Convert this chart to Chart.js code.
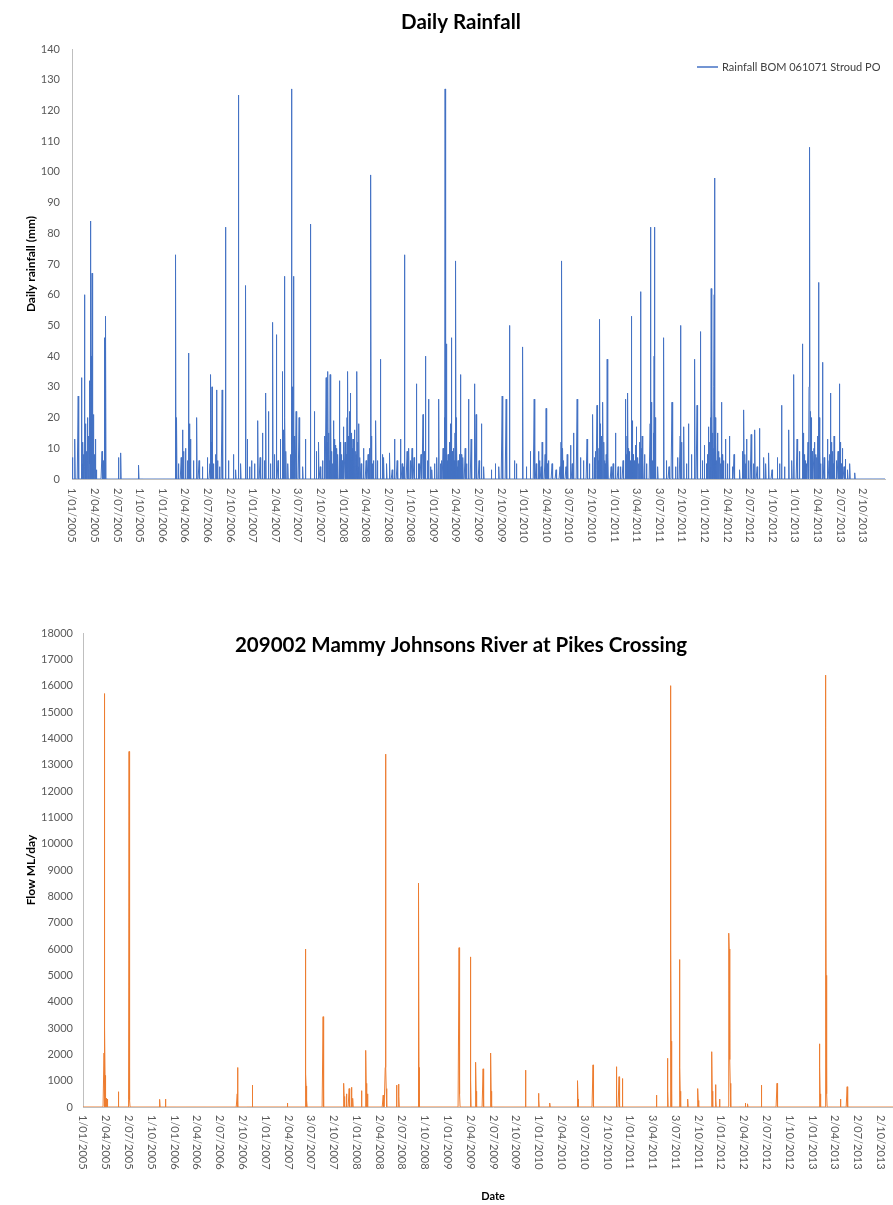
<!DOCTYPE html>
<html>
<head>
<meta charset="utf-8">
<title>Daily Rainfall and Flow</title>
<script src="https://cdn.jsdelivr.net/npm/chart.js@4.4.1/dist/chart.umd.min.js"></script>
<style>
  html, body { margin: 0; padding: 0; background: #ffffff; overflow: hidden; width: 893px; height: 1205px; }
  .panel { position: absolute; left: 0; }
  #rainPanel { top: 0; width: 893px; height: 560px; }
  #flowPanel { top: 600px; width: 912px; height: 605px; }
</style>
</head>
<body>
<div id="rainPanel" class="panel"><canvas id="rainChart" width="893" height="560"></canvas></div>
<div id="flowPanel" class="panel"><canvas id="flowChart" width="912" height="605"></canvas></div>
<script>
// Daily records, one category per day counted from 1/01/2005.
const DAY_COUNT = 3276;
const TICK_STEP = 91;

// Date labels shown along both x axes, one every TICK_STEP days.
const dateTicks = [
  "1/01/2005","2/04/2005","2/07/2005","1/10/2005","1/01/2006","2/04/2006","2/07/2006","2/10/2006",
  "1/01/2007","2/04/2007","3/07/2007","2/10/2007","1/01/2008","2/04/2008","2/07/2008","1/10/2008",
  "1/01/2009","2/04/2009","2/07/2009","2/10/2009","1/01/2010","2/04/2010","3/07/2010","2/10/2010",
  "1/01/2011","3/04/2011","3/07/2011","2/10/2011","1/01/2012","2/04/2012","2/07/2012","1/10/2012",
  "1/01/2013","2/04/2013","2/07/2013","2/10/2013"
];

// Rainfall BOM 061071 Stroud PO: [day, mm] for wet days (all other days 0 mm).
const rain2005 = [[1,7],[12,13],[25,27],[39,33],[41,5],[44,12],[47,8],[50,60],[52,4],[55,18],[58,9],[62,20],[64,6],[66,10],[68,14],[70,32],[72,5],[73,20],[75,84],[77,40],[78,25],[80,10],[81,67],[83,30],[86,21],[90,8],[92,4],[95,13],[98,3],[121,9],[127,6],[130,46],[133,15],[136,53],[187,7],[197,8.5],[269,4.5]];
const rain2006 = [[418,73],[422,20],[430,5],[440,7],[443,3],[446,16],[450,9],[457,10],[466,6],[470,41],[473,18],[476,7],[478,13],[490,6],[503,20],[512,6],[525,4],[546,7],[556,5],[559,34],[561,12],[564,30],[570,5],[580,8],[583,29],[586,6],[595,4],[605,29],[618,82],[630,6],[651,8],[660,3],[671,125],[680,5],[700,63],[707,13],[715,4],[723,6]];
const rain2007 = [[735,5],[749,19],[758,7],[767,15],[775,6],[781,28],[792,22],[800,5],[809,51],[815,8],[823,47],[830,6],[839,13],[848,35],[851,9],[853,16],[855,66],[858,20],[862,9],[870,5],[880,8],[884,127],[887,30],[889,12],[892,66],[895,14],[898,10],[903,22],[915,20],[930,4],[940,13],[961,83],[976,22],[985,9],[994,12],[1000,4],[1010,6],[1018,14],[1024,33],[1028,12],[1031,35],[1033,15],[1035,8],[1038,6],[1040,34],[1043,18],[1046,9],[1049,5],[1053,19],[1057,13],[1060,11],[1064,6],[1067,10],[1071,8],[1077,32],[1080,12],[1085,8],[1088,6],[1094,17]];
const rain2008 = [[1100,12],[1104,8],[1108,20],[1111,35],[1113,9],[1115,14],[1118,22],[1121,28],[1124,6],[1127,15],[1129,10],[1132,13],[1135,5],[1138,16],[1142,9],[1145,8],[1148,35],[1151,12],[1153,4],[1156,18],[1160,7],[1165,5],[1175,10],[1185,6],[1193,8],[1198,10],[1202,20],[1204,99],[1207,14],[1210,5],[1215,6],[1224,19],[1230,6],[1242,39],[1250,8],[1256,7],[1268,5],[1280,8.5],[1290,3],[1300,13],[1310,6],[1323,13],[1330,5],[1335,4],[1340,73],[1350,9],[1357,10],[1364,6],[1370,10],[1378,7],[1387,31],[1395,5],[1400,5],[1406,8],[1414,21],[1420,9],[1425,40],[1432,6],[1437,26],[1445,4],[1450,3],[1460,5]];
const rain2009 = [[1470,7],[1478,26],[1485,5],[1490,6],[1495,10],[1500,20],[1503,127],[1505,15],[1509,44],[1512,6],[1515,8],[1520,12],[1525,18],[1528,46],[1531,9],[1536,10],[1540,6],[1543,15],[1546,71],[1548,20],[1550,12],[1552,4],[1555,6],[1560,8],[1565,34],[1568,8],[1572,5],[1575,7],[1584,10],[1590,5],[1598,26],[1608,13],[1621,31],[1628,21],[1640,6],[1649,18],[1659,4],[1690,3],[1706,5],[1720,4],[1733,27],[1749,26],[1763,50],[1782,6],[1790,5],[1816,43]];
const rain2010 = [[1830,4],[1846,9],[1862,26],[1870,5],[1880,9],[1884,6],[1890,4],[1894,12],[1906,8],[1910,23],[1914,5],[1920,6],[1934,5],[1950,3],[1966,4],[1970,12],[1973,71],[1977,10],[1980,6],[1990,4],[1995,8],[2008,11],[2015,5],[2021,15],[2035,26],[2048,7],[2060,6],[2075,13],[2085,5],[2098,21],[2105,7],[2110,9],[2115,24],[2118,12],[2120,6],[2123,10],[2126,52],[2128,18],[2131,14],[2134,9],[2139,25],[2143,12],[2145,6],[2148,5],[2152,8],[2156,39],[2159,7],[2172,4],[2180,5],[2190,15]];
const rain2011 = [[2200,4],[2210,4],[2220,6],[2230,26],[2233,8],[2236,14],[2239,28],[2242,10],[2245,9],[2249,6],[2254,53],[2257,19],[2260,8],[2265,6],[2270,11],[2274,17],[2280,7],[2284,5],[2287,12],[2290,61],[2294,10],[2297,14],[2300,6],[2306,8],[2315,5],[2329,18],[2331,82],[2333,25],[2335,10],[2339,6],[2343,15],[2345,40],[2347,82],[2349,20],[2351,8],[2360,4],[2384,46],[2395,6],[2405,4],[2417,25],[2431,4],[2440,7],[2450,14],[2452,50],[2455,12],[2465,17],[2475,5],[2483,18],[2495,8],[2509,39],[2518,24],[2531,48],[2540,6],[2548,11],[2555,5]];
const rain2012 = [[2560,8],[2563,17],[2566,6],[2569,12],[2573,20],[2575,62],[2578,26],[2580,15],[2583,10],[2586,30],[2587,60],[2589,98],[2591,20],[2594,12],[2597,6],[2600,15],[2604,9],[2610,7],[2613,5],[2616,25],[2619,8],[2625,6],[2633,13],[2640,5],[2648,14],[2660,4],[2667,8],[2690,3],[2700,9],[2703,6],[2707,22.5],[2711,8],[2714,5],[2717,13],[2725,6],[2736,14.5],[2745,5],[2751,16],[2760,4],[2770,16.5],[2787,7],[2795,5],[2807,8.5],[2820,3],[2841,7],[2850,5],[2858,24],[2870,4],[2888,16],[2900,6],[2908,34],[2921,13]];
const rain2013 = [[2930,9],[2942,44],[2946,15],[2950,8],[2955,6],[2960,5],[2965,12],[2969,30],[2970,75],[2971,55],[2972,108],[2974,22],[2976,12],[2978,20],[2981,9],[2984,6],[2989,10],[2992,12],[2995,8],[3000,7],[3004,14],[3007,64],[3010,20],[3013,9],[3016,5],[3023,38],[3030,7],[3043,13],[3050,6],[3053,8],[3056,28],[3059,12],[3063,9],[3066,5],[3070,14],[3080,6],[3086,9],[3091,31],[3094,12],[3098,5],[3103,10],[3110,4],[3116,6.5],[3125,3],[3134,5],[3154,2]];

// 209002 Mammy Johnsons River at Pikes Crossing: [day, ML/day] for flow events.
const flow2005 = [[84,2050],[86,15700],[87,3000],[88,1200],[89,600],[92,330],[96,300],[141,580],[183,300],[184,13500],[185,1500],[186,500],[187,250],[307,290],[329,300]];
const flow2006 = [[616,500],[617,1500],[618,700],[676,830]];
const flow2007 = [[816,150],[888,1000],[889,6000],[890,1250],[891,800],[892,400],[894,250],[959,3430],[960,600],[961,250],[1042,900],[1043,400],[1052,500],[1063,700],[1072,750],[1078,330]];
const flow2008 = [[1112,620],[1130,2150],[1131,900],[1136,500],[1199,450],[1207,1500],[1208,13400],[1209,4000],[1210,1500],[1211,700],[1252,830],[1261,870],[1262,400],[1341,8500],[1342,1500],[1343,500]];
const flow2009 = [[1502,6050],[1503,5800],[1504,1200],[1505,500],[1548,5700],[1549,1000],[1569,1700],[1570,600],[1598,1450],[1599,500],[1629,2050],[1630,600],[1767,1400],[1768,400],[1820,520],[1821,300]];
const flow2010 = [[1865,150],[1976,1000],[1977,300],[2037,1600],[2038,500],[2130,1530],[2131,600],[2141,1150],[2154,1080],[2155,400]];
const flow2011 = [[2290,450],[2335,1850],[2336,600],[2346,3000],[2347,16000],[2348,6000],[2349,2500],[2350,1200],[2351,600],[2383,5600],[2384,1500],[2385,600],[2416,300],[2456,700],[2457,250],[2512,2100],[2513,600],[2527,850],[2528,300],[2543,300]];
const flow2012 = [[2579,2000],[2580,6600],[2581,6000],[2582,4500],[2583,3500],[2584,1800],[2585,900],[2586,500],[2645,150],[2655,120],[2709,830],[2710,250],[2772,900],[2773,250]];
const flow2013 = [[2942,2400],[2943,1500],[2944,500],[2965,2000],[2966,16400],[2967,14400],[2968,5000],[2969,2000],[2970,1000],[2971,500],[3025,300],[3052,770],[3053,300]];

// Expand the listed days into a full daily series.
function dailySeries(groups) {
  const out = new Array(DAY_COUNT).fill(0);
  groups.forEach(g => g.forEach(([day, value]) => { out[day] = value; }));
  return out;
}

const dayLabels = Array.from({ length: DAY_COUNT }, (_, i) => i);
const rainSeries = dailySeries([rain2005, rain2006, rain2007, rain2008, rain2009, rain2010, rain2011, rain2012, rain2013]);
const flowSeries = dailySeries([flow2005, flow2006, flow2007, flow2008, flow2009, flow2010, flow2011, flow2012, flow2013]);

const FONT = 'Lato, "Open Sans", sans-serif';
const AXIS_GREY = '#bfbfbf';
const TICK_GREY = '#595959';

// Chart heading drawn at a fixed spot over the plot.
const headline = {
  id: 'headline',
  afterDraw(chart, args, opts) {
    const ctx = chart.ctx;
    ctx.save();
    ctx.font = opts.font;
    ctx.fillStyle = opts.color;
    ctx.textAlign = 'center';
    ctx.textBaseline = 'middle';
    ctx.fillText(opts.text, opts.x, opts.y);
    ctx.restore();
  }
};

// Series key inside the plot: a short line sample followed by the series name.
const seriesKey = {
  id: 'seriesKey',
  afterDraw(chart, args, opts) {
    if (!opts || !opts.display) return;
    const ds = chart.data.datasets[0];
    const ctx = chart.ctx;
    ctx.save();
    ctx.strokeStyle = ds.borderColor;
    ctx.lineWidth = 1.5;
    ctx.beginPath();
    ctx.moveTo(opts.x, opts.y);
    ctx.lineTo(opts.x + opts.sampleWidth, opts.y);
    ctx.stroke();
    ctx.font = opts.font;
    ctx.fillStyle = opts.color;
    ctx.textAlign = 'left';
    ctx.textBaseline = 'middle';
    ctx.fillText(ds.label, opts.x + opts.sampleWidth + opts.gap, opts.y);
    ctx.restore();
  }
};

// Date labels under the x axis, turned to read downwards.
const dateAxisLabels = {
  id: 'dateAxisLabels',
  afterDraw(chart, args, opts) {
    const scale = chart.scales.x;
    const ctx = chart.ctx;
    ctx.save();
    ctx.font = opts.font;
    ctx.fillStyle = opts.color;
    ctx.textAlign = 'left';
    ctx.textBaseline = 'middle';
    opts.labels.forEach((label, i) => {
      const x = scale.getPixelForValue(i * opts.step);
      ctx.save();
      ctx.translate(x, scale.top + opts.gap);
      ctx.rotate(Math.PI / 2);
      ctx.fillText(label, 0, 0);
      ctx.restore();
    });
    ctx.restore();
  }
};

function xAxis(height, titleOpts) {
  return {
    type: 'category',
    ticks: { display: false },
    grid: { display: false, drawTicks: false },
    border: { display: true, color: AXIS_GREY, width: 1 },
    title: titleOpts || { display: false },
    afterFit(scale) { scale.height = height; }
  };
}

function yAxis(max, step, width, titleText, titlePad, tickPad) {
  return {
    min: 0,
    max: max,
    ticks: {
      stepSize: step,
      color: TICK_GREY,
      font: { family: FONT, size: 11 },
      padding: tickPad,
      callback: v => String(v)
    },
    grid: { display: false, drawTicks: false },
    border: { display: true, color: AXIS_GREY, width: 1 },
    title: {
      display: true,
      text: titleText,
      color: '#000000',
      font: { family: FONT, size: 12, weight: 'bold' },
      padding: { top: titlePad, bottom: 0 }
    },
    afterFit(scale) { scale.width = width; }
  };
}

const common = {
  responsive: false,
  devicePixelRatio: 1,
  animation: false,
  events: [],
  elements: { point: { radius: 0 }, line: { tension: 0 } }
};

new Chart(document.getElementById('rainChart'), {
  type: 'line',
  data: {
    labels: dayLabels,
    datasets: [{
      label: 'Rainfall BOM 061071 Stroud PO',
      data: rainSeries,
      borderColor: '#4472c4',
      backgroundColor: '#4472c4',
      borderWidth: 1,
      pointRadius: 0
    }]
  },
  options: Object.assign({}, common, {
    layout: { padding: { top: 49, right: 8, left: 0, bottom: 0 } },
    scales: {
      x: xAxis(81),
      y: yAxis(140, 10, 72, 'Daily rainfall (mm)', 24, 12)
    },
    plugins: {
      legend: { display: false },
      tooltip: { enabled: false },
      headline: { text: 'Daily Rainfall', x: 461, y: 22, font: 'bold 20.5px ' + FONT, color: '#000000' },
      seriesKey: { display: true, x: 697, y: 67, sampleWidth: 21, gap: 4, font: '11px ' + FONT, color: '#404040' },
      dateAxisLabels: { labels: dateTicks, step: TICK_STEP, gap: 9, font: '11px ' + FONT, color: TICK_GREY }
    }
  }),
  plugins: [headline, seriesKey, dateAxisLabels]
});

new Chart(document.getElementById('flowChart'), {
  type: 'line',
  data: {
    labels: dayLabels,
    datasets: [{
      label: '209002 Mammy Johnsons River at Pikes Crossing',
      data: flowSeries,
      borderColor: '#ed7d31',
      backgroundColor: '#ed7d31',
      borderWidth: 1,
      pointRadius: 0
    }]
  },
  options: Object.assign({}, common, {
    layout: { padding: { top: 33, right: 9, left: 0, bottom: 0 } },
    scales: {
      x: xAxis(98, {
        display: true,
        text: 'Date',
        color: '#000000',
        font: { family: FONT, size: 11, weight: 'bold' },
        padding: { top: 0, bottom: 2 }
      }),
      y: yAxis(18000, 1000, 83, 'Flow ML/day', 24, 10)
    },
    plugins: {
      legend: { display: false },
      tooltip: { enabled: false },
      headline: { text: '209002 Mammy Johnsons River at Pikes Crossing', x: 461, y: 45, font: 'bold 20.5px ' + FONT, color: '#000000' },
      dateAxisLabels: { labels: dateTicks, step: TICK_STEP, gap: 8, font: '11px ' + FONT, color: TICK_GREY }
    }
  }),
  plugins: [headline, dateAxisLabels]
});
</script>
</body>
</html>
